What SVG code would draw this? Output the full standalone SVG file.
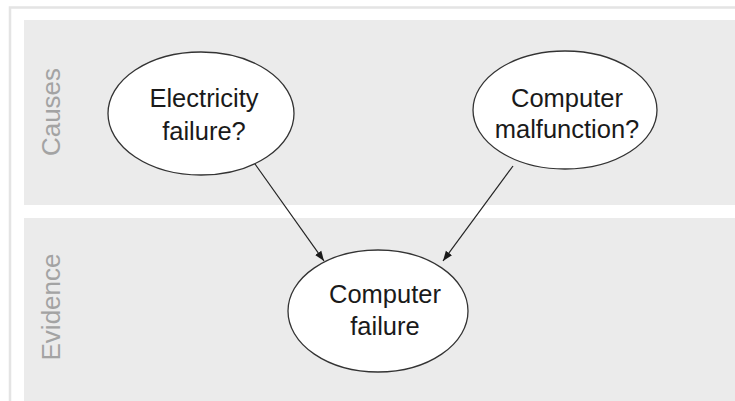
<svg xmlns="http://www.w3.org/2000/svg" width="735" height="401" viewBox="0 0 735 401">
  <style>
    .band { fill: #ebebeb; }
    .frame { fill: none; stroke: #e4e4e4; stroke-width: 2.5; }
    .lane { font-family: "Liberation Sans", Arial, sans-serif; font-size: 26px; fill: #a3a3a3; text-anchor: middle; }
    .node ellipse { fill: #ffffff; stroke: #333333; stroke-width: 1.3; }
    .node text { font-family: "Liberation Sans", Arial, sans-serif; font-size: 25.5px; fill: #1a1a1a; text-anchor: middle; }
    .edge { stroke: #222222; stroke-width: 1.2; fill: none; marker-end: url(#arrow); }
  </style>
  <defs>
    <marker id="arrow" viewBox="0 0 10 10" refX="10" refY="5" markerWidth="10" markerHeight="10" markerUnits="userSpaceOnUse" orient="auto">
      <path d="M0,1.2 L10,5 L0,8.8 Z" fill="#1a1a1a"/>
    </marker>
  </defs>
  <rect width="735" height="401" fill="#ffffff"/>
  <path class="frame" d="M10,401 V7.5 H735"/>
  <g id="lane-causes">
    <rect class="band" x="24" y="20" width="711" height="185"/>
    <text class="lane" transform="translate(60,112) rotate(-90)">Causes</text>
  </g>
  <g id="lane-evidence">
    <rect class="band" x="24" y="218" width="711" height="183"/>
    <text class="lane" transform="translate(60,307) rotate(-90)">Evidence</text>
  </g>
  <g id="connectors">
    <line class="edge" x1="255" y1="164" x2="324" y2="261"/>
    <line class="edge" x1="513" y1="166" x2="443" y2="261"/>
  </g>
  <g id="node-electricity" class="node">
    <ellipse cx="201" cy="113.5" rx="93" ry="61.5"/>
    <text x="204" y="107">Electricity</text>
    <text x="204" y="140">failure?</text>
  </g>
  <g id="node-malfunction" class="node">
    <ellipse cx="565" cy="110" rx="92" ry="59"/>
    <text x="567" y="107">Computer</text>
    <text x="567" y="138">malfunction?</text>
  </g>
  <g id="node-computer-failure" class="node">
    <ellipse cx="378" cy="311" rx="90" ry="61"/>
    <text x="385" y="303">Computer</text>
    <text x="385" y="335">failure</text>
  </g>
</svg>
